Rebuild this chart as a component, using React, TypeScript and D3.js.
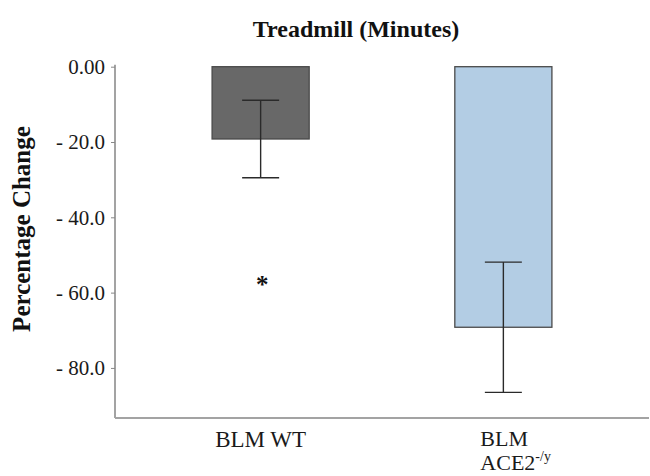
import React, { useEffect, useRef } from 'react';
import * as d3 from 'd3';

const groups = ['BLM WT', 'BLM ACE2'];
const means = [-19.2, -69.2];
const errors = [10.3, 17.3];
const barColors = ['#686868', '#b3cde4'];
const yTicks = [0, -20, -40, -60, -80];

const FONT = '"Liberation Serif", "Times New Roman", serif';

const App = () => {
  const svgRef = useRef<SVGSVGElement>(null);

  useEffect(() => {
    const svg = d3.select(svgRef.current);
    svg.selectAll('*').remove();

    const width = 650;
    const height = 476;
    const margin = { top: 66.7, right: 1, bottom: 58, left: 115 };

    const x = d3.scaleBand()
      .domain(groups)
      .range([margin.left, width - margin.right])
      .paddingInner(0.6)
      .paddingOuter(0.4);

    const y = d3.scaleLinear()
      .domain([0, -93.3])
      .range([margin.top, height - margin.bottom]);

    // bars
    svg.selectAll('.bar')
      .data(groups)
      .join('rect')
      .attr('class', 'bar')
      .attr('x', d => x(d))
      .attr('y', y(0))
      .attr('width', x.bandwidth())
      .attr('height', (d, i) => y(means[i]) - y(0))
      .attr('fill', (d, i) => barColors[i])
      .attr('stroke', '#4a4a4a')
      .attr('stroke-width', 1.3);

    // error bars
    const capW = 37;
    const eb = svg.selectAll('.err')
      .data(groups)
      .join('g')
      .attr('class', 'err')
      .attr('stroke', '#2a2a2a')
      .attr('stroke-width', 1.4);

    eb.append('line')
      .attr('x1', d => x(d) + x.bandwidth() / 2)
      .attr('x2', d => x(d) + x.bandwidth() / 2)
      .attr('y1', (d, i) => y(means[i] + errors[i]))
      .attr('y2', (d, i) => y(means[i] - errors[i]));
    eb.append('line')
      .attr('x1', d => x(d) + x.bandwidth() / 2 - capW / 2)
      .attr('x2', d => x(d) + x.bandwidth() / 2 + capW / 2)
      .attr('y1', (d, i) => y(means[i] + errors[i]))
      .attr('y2', (d, i) => y(means[i] + errors[i]));
    eb.append('line')
      .attr('x1', d => x(d) + x.bandwidth() / 2 - capW / 2)
      .attr('x2', d => x(d) + x.bandwidth() / 2 + capW / 2)
      .attr('y1', (d, i) => y(means[i] - errors[i]))
      .attr('y2', (d, i) => y(means[i] - errors[i]));

    // significance marker
    svg.append('text')
      .attr('x', x(groups[0]) + x.bandwidth() / 2 + 1.5)
      .attr('y', y(-57) + 12)
      .attr('text-anchor', 'middle')
      .attr('font-family', FONT)
      .attr('font-weight', 'bold')
      .attr('font-size', 25)
      .attr('fill', '#111')
      .text('*');

    // y axis
    const yAxis = svg.append('g')
      .attr('transform', `translate(${margin.left},0)`)
      .call(d3.axisLeft(y)
        .tickValues(yTicks)
        .tickSize(4)
        .tickPadding(6)
        .tickFormat(d => (d === 0 ? '0.00' : '- ' + Math.abs(+d).toFixed(1))));
    yAxis.select('.domain')
      .attr('d', `M0,${y(0) - 2}V${y.range()[1]}`)
      .attr('stroke', '#a3a3a3')
      .attr('stroke-width', 2);
    yAxis.selectAll('.tick line').attr('stroke', '#888').attr('stroke-width', 1);
    yAxis.selectAll('.tick text')
      .attr('font-family', FONT)
      .attr('font-size', 21)
      .attr('fill', '#1a1a1a');

    // x axis line
    svg.append('line')
      .attr('x1', margin.left)
      .attr('x2', width - margin.right)
      .attr('y1', y.range()[1])
      .attr('y2', y.range()[1])
      .attr('stroke', '#a3a3a3')
      .attr('stroke-width', 2);

    // x labels
    svg.append('text')
      .attr('x', x(groups[0]) + x.bandwidth() / 2)
      .attr('y', 447)
      .attr('text-anchor', 'middle')
      .attr('font-family', FONT)
      .attr('font-size', 23)
      .attr('fill', '#1a1a1a')
      .text('BLM WT');

    const lx = x(groups[1]) + x.bandwidth() / 2 - 23;
    svg.append('text')
      .attr('x', lx)
      .attr('y', 446)
      .attr('font-family', FONT)
      .attr('font-size', 22)
      .attr('fill', '#1a1a1a')
      .text('BLM');
    const lbl2 = svg.append('text')
      .attr('x', lx)
      .attr('y', 470)
      .attr('font-family', FONT)
      .attr('font-size', 22)
      .attr('fill', '#1a1a1a');
    lbl2.append('tspan').text('ACE2');
    lbl2.append('tspan')
      .attr('dy', -9)
      .attr('font-size', 14)
      .text('-/y');

    // title
    svg.append('text')
      .attr('x', 356)
      .attr('y', 37)
      .attr('text-anchor', 'middle')
      .attr('font-family', FONT)
      .attr('font-weight', 'bold')
      .attr('font-size', 24)
      .attr('fill', '#111')
      .text('Treadmill (Minutes)');

    // y label
    svg.append('text')
      .attr('transform', 'translate(30,229) rotate(-90)')
      .attr('text-anchor', 'middle')
      .attr('font-family', FONT)
      .attr('font-weight', 'bold')
      .attr('font-size', 25)
      .attr('fill', '#111')
      .text('Percentage Change');
  }, []);

  return (
    <svg
      ref={svgRef}
      width={650}
      height={476}
      style={{ position: 'absolute', left: 0, top: 0, background: '#fff' }}
    />
  );
};

export default App;
